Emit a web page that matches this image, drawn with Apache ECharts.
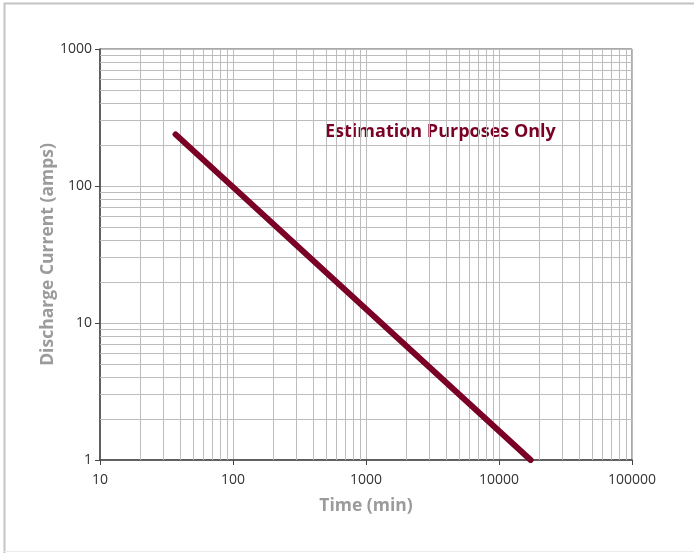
<!DOCTYPE html>
<html>
<head>
<meta charset="utf-8">
<script src="https://cdn.jsdelivr.net/npm/echarts@6/dist/echarts.min.js"></script>
<style>html,body{margin:0;padding:0;background:#fff}#c{width:694px;height:553px}</style>
</head>
<body>
<div id="c"></div>
<script>
var timeMin = [37, 17300];
var currentAmps = [238, 1];
var xMinorTicks = [];
var yMinorTicks = [];
var decadesX = [10, 100, 1000, 10000];
var decadesY = [1, 10, 100];
var mult = [2, 3, 4, 5, 6, 7, 8, 9];
decadesX.forEach(function (d) { mult.forEach(function (m) { xMinorTicks.push(d * m); }); });
decadesY.forEach(function (d) { mult.forEach(function (m) { yMinorTicks.push(d * m); }); });
var annotation = 'Estimation Purposes Only';

var chart = echarts.init(document.getElementById('c'));
var gridColor = '#bcbcbc';
var minorLines = xMinorTicks.map(function (v) { return { xAxis: v }; })
  .concat(yMinorTicks.map(function (v) { return { yAxis: v }; }));
var plain = function (v) { return String(Math.round(v)); };

chart.setOption({
  animation: false,
  graphic: [
    { type: 'polyline', shape: { points: [[4.5, 553], [4.5, 3.5], [694, 3.5]] }, style: { stroke: '#c4c4c4', lineWidth: 2, fill: null } },
    { type: 'line', shape: { x1: 4, y1: 551.5, x2: 694, y2: 551.5 }, style: { stroke: '#ececec', lineWidth: 1 } },
    { type: 'text', left: 325, top: 123, style: { text: annotation, fill: '#7a0026', font: 'bold 18px "Open Sans", "Noto Sans", sans-serif' } }
  ],
  grid: { left: 100, right: 62, top: 49, bottom: 93, show: true, borderColor: '#555', borderWidth: 1, containLabel: false },
  xAxis: {
    type: 'log', logBase: 10, min: 10, max: 100000,
    name: 'Time (min)', nameLocation: 'middle', nameGap: 37, nameMoveOverlap: false,
    nameTextStyle: { color: '#9b9b9b', fontSize: 17.5, fontWeight: 'bold', fontFamily: '"Open Sans", sans-serif' },
    axisLine: { lineStyle: { color: '#444', width: 1.5 } },
    axisTick: { show: true, length: 5, lineStyle: { color: '#444' } },
    axisLabel: { color: '#333', fontSize: 14, margin: 13, fontFamily: '"Open Sans", sans-serif', formatter: plain },
    splitLine: { show: true, lineStyle: { color: gridColor, width: 1 } }
  },
  yAxis: {
    type: 'log', logBase: 10, min: 1, max: 1000,
    name: 'Discharge Current (amps)', nameLocation: 'middle', nameGap: 43, nameMoveOverlap: false,
    nameTextStyle: { color: '#9b9b9b', fontSize: 17.5, fontWeight: 'bold', fontFamily: '"Open Sans", sans-serif' },
    axisLine: { lineStyle: { color: '#444', width: 1.5 } },
    axisTick: { show: true, length: 5, lineStyle: { color: '#444' } },
    axisLabel: { color: '#333', fontSize: 14, margin: 8, fontFamily: '"Open Sans", sans-serif', formatter: plain },
    splitLine: { show: true, lineStyle: { color: gridColor, width: 1 } }
  },
  series: [
    {
      type: 'line', data: [], silent: true,
      markLine: { silent: true, symbol: 'none', label: { show: false },
        lineStyle: { color: gridColor, width: 1, type: 'solid' }, emphasis: { disabled: true }, data: minorLines },
      z: 1
    },
    {
      type: 'line',
      data: timeMin.map(function (t, i) { return [t, currentAmps[i]]; }),
      showSymbol: false, symbol: 'none',
      lineStyle: { color: '#7a0026', width: 6, cap: 'round' },
      z: 5
    }
  ]
});
</script>
</body>
</html>
